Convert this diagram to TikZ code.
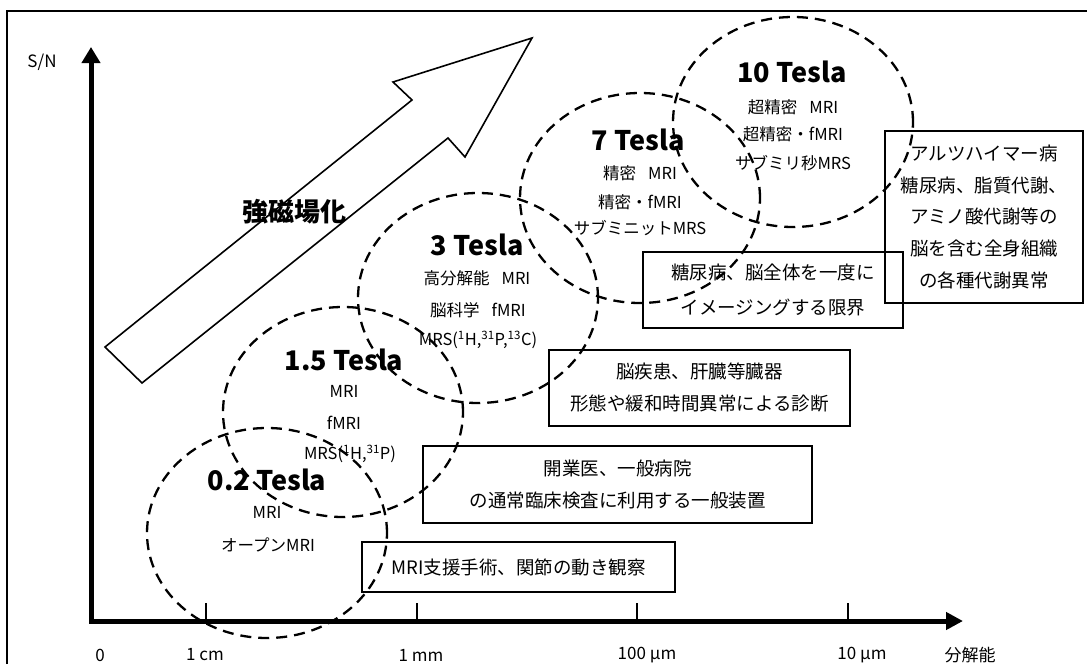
\documentclass[tikz,border=0pt]{standalone}
\usepackage{fontspec}
\setmainfont{Noto Sans CJK JP}
\usetikzlibrary{shapes.geometric,arrows.meta}
\begin{document}
\begin{tikzpicture}[x=1pt,y=-1pt,
  every node/.style={inner sep=0pt, outer sep=0pt},
  ring/.style={ellipse, draw, dash pattern=on 11pt off 7pt, line width=2.3pt, minimum width=240pt, minimum height=210pt},
  title/.style={font=\fontsize{27}{30}\selectfont\bfseries},
  item/.style={font=\fontsize{16.5}{18}\selectfont},
  box/.style={draw, line width=1.8pt, align=center},
  boxtext/.style={font=\fontsize{18.5}{32}\selectfont},
  axlabel/.style={font=\fontsize{17}{20}\selectfont},
  tickmark/.style={line width=1.5pt},
  axis/.style={line width=5pt, line join=miter, {Triangle[length=16pt,width=18pt]}-{Triangle[length=17pt,width=17pt]}},
]
\useasboundingbox (0,0) rectangle (1087,664);
\fill[white] (0,0) rectangle (1087,664);
% frame
\draw[line width=2pt] (7,664) -- (7,10.5) -- (1087,10.5);

% axes
\coordinate (O) at (91,621);
\coordinate (ytip) at (91,47);
\coordinate (xtip) at (963,621);
\draw[axis] (ytip) -- (O) -- (xtip);
\draw[tickmark] (206,621) -- ++(0,-18);
\draw[tickmark, line width=2.5pt] (417,621) -- ++(0,-18);
\draw[tickmark] (637,621) -- ++(0,-18);
\draw[tickmark] (848,621) -- ++(0,-18);

\node[axlabel] (sn) at (42,62) {S/N};
\node[axlabel] (l0) at (100,655) {0};
\node[axlabel] (l1) at (205,655) {1 cm};
\node[axlabel] (l2) at (421,655) {1 mm};
\node[axlabel] (l3) at (647,655) {100 μm};
\node[axlabel] (l4) at (862,655) {10 μm};
\node[axlabel] (l5) at (970,655) {分解能};

% big hollow arrow
\draw[line width=1.6pt, line join=miter] (105,347) -- (412,100) -- (393,82) -- (532,38) -- (465,157) -- (448,138) -- (142,383) -- cycle;
\node[font=\fontsize{26}{28}\selectfont\bfseries] (kyo) at (294,212) {強磁場化};

% rings
\node[ring] (r02) at (267,533) {};
\node[ring] (r15) at (343,412) {};
\node[ring] (r3)  at (478,298) {};
\node[ring] (r7)  at (640,198) {};
\node[ring] (r10) at (793,122) {};

% 0.2 Tesla
\node[title] (t02) at (267,480) {0.2 Tesla};
\node[item] (a02) at (267,512) {MRI};
\node[item] (b02) at (268,545) {オープンMRI};
% 1.5 Tesla
\node[title] (t15) at (344,360) {1.5 Tesla};
\node[item] (a15) at (344,391) {MRI};
\node[item] (b15) at (344,423) {fMRI};
\node[item] (c15) at (350,454) {MRS(\textsuperscript{1}H,\textsuperscript{31}P)};
% 3 Tesla
\node[title] (t3) at (477,245) {3 Tesla};
\node[item] (a3) at (477,278) {高分解能 \hspace{0.5em}MRI};
\node[item] (b3) at (478,310) {脳科学 \hspace{0.5em}fMRI};
\node[item] (c3) at (478,340) {MRS(\textsuperscript{1}H,\textsuperscript{31}P,\textsuperscript{13}C)};
% 7 Tesla
\node[title] (t7) at (638,140) {7 Tesla};
\node[item] (a7) at (640,173) {精密 \hspace{0.5em}MRI};
\node[item] (b7) at (640,202) {精密・fMRI};
\node[item] (c7) at (640,228) {サブミニットMRS};
% 10 Tesla
\node[title] (t10) at (792,72) {10 Tesla};
\node[item] (a10) at (793,107) {超精密 \hspace{0.5em}MRI};
\node[item] (b10) at (793,134) {超精密・fMRI};
\node[item] (c10) at (793,163) {サブミリ秒MRS};

% boxes
\node[box, minimum width=313pt, minimum height=50pt, boxtext] (bA) at (518.5,567) {MRI支援手術、関節の動き観察};
\node[box, minimum width=389pt, minimum height=77pt, boxtext] (bB) at (617.5,484.5) {開業医、一般病院\\の通常臨床検査に利用する一般装置};
\node[box, minimum width=301pt, minimum height=76pt, boxtext] (bC) at (699.5,388) {脳疾患、肝臓等臓器\\形態や緩和時間異常による診断};
\node[box, minimum width=260pt, minimum height=76pt, font=\fontsize{18.5}{35}\selectfont] (bD) at (773,290) {糖尿病、脳全体を一度に\\イメージングする限界};
\node[box, minimum width=198pt, minimum height=172pt, font=\fontsize{18.5}{31.75}\selectfont] (bE) at (984,217) {アルツハイマー病\\糖尿病、脂質代謝、\\アミノ酸代謝等の\\脳を含む全身組織\\の各種代謝異常};
\end{tikzpicture}
\end{document}
